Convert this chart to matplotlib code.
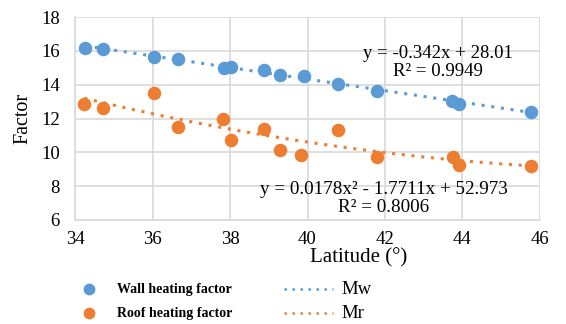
import numpy as np
import matplotlib
matplotlib.use("Agg")
import matplotlib.pyplot as plt
from matplotlib.lines import Line2D

lat_wall = [34.26, 34.73, 36.04, 36.67, 37.85, 38.03, 38.88, 39.28, 39.9, 40.8, 41.8, 43.73, 43.92, 45.76]
wall = [16.18, 16.09, 15.62, 15.50, 14.98, 15.02, 14.86, 14.59, 14.50, 14.04, 13.64, 13.03, 12.83, 12.36]
lat_roof = [34.24, 34.73, 36.04, 36.67, 37.83, 38.03, 38.88, 39.28, 39.84, 40.79, 41.8, 43.75, 43.92, 45.76]
roof = [12.85, 12.60, 13.52, 11.51, 11.95, 10.72, 11.36, 10.13, 9.85, 11.31, 9.70, 9.73, 9.28, 9.20]
mw_coef = [-0.342, 28.01]
mr_coef = [0.0178, -1.7711, 52.973]
xticks = [34, 36, 38, 40, 42, 44, 46]
yticks = [6, 8, 10, 12, 14, 16, 18]

BLUE = "#5B9BD5"
ORANGE = "#ED7D31"
W, H = 566, 324
plt.rcParams['font.family'] = ['Liberation Serif', 'DejaVu Serif']

fig = plt.figure(figsize=(W/100, H/100), dpi=100)
ax = fig.add_axes([75/W, 1-220/H, (540-75)/W, (220-17)/H])

xs = np.linspace(min(lat_wall), max(lat_wall), 100)
ax.plot(xs, np.polyval(mw_coef, xs), linestyle=(0, (1, 2.2)), color=BLUE, lw=2.2, zorder=2)
xs2 = np.linspace(min(lat_roof), max(lat_roof), 100)
ax.plot(xs2, np.polyval(mr_coef, xs2), linestyle=(0, (1, 2.2)), color=ORANGE, lw=2.2, zorder=2)
ax.scatter(lat_wall, wall, s=95, color=BLUE, zorder=3, linewidths=0)
ax.scatter(lat_roof, roof, s=95, color=ORANGE, zorder=3, linewidths=0)

ax.set_xlim(34, 46)
ax.set_ylim(6, 18)
ax.set_xticks(xticks)
ax.set_yticks(yticks)
ax.grid(True, color="#D9D9D9", lw=1.2)
ax.set_axisbelow(True)
for s in ["top", "right"]:
    ax.spines[s].set_visible(False)
for s in ["left", "bottom"]:
    ax.spines[s].set_color("#D9D9D9")
    ax.spines[s].set_linewidth(1.2)
ax.tick_params(axis="y", length=0, labelsize=13.5, pad=11)
ax.tick_params(axis="x", length=0, labelsize=13.5, pad=8)
ax.set_ylabel("Factor", fontsize=14.5, labelpad=6)

ax.text(438, 53, "y = -0.342x + 28.01", transform=None, ha="center", va="center", fontsize=13.5)
fig.text(438/W, 1-72/H, "R² = 0.9949", ha="center", va="center", fontsize=13.5)
fig.text(384/W, 1-189/H, "y = 0.0178x² - 1.7711x + 52.973", ha="center", va="center", fontsize=13.8)
fig.text(384/W, 1-207/H, "R² = 0.8006", ha="center", va="center", fontsize=13.8)
ax.texts[0].remove()
fig.text(438/W, 1-53/H, "y = -0.342x + 28.01", ha="center", va="center", fontsize=13.5)

fig.text(359/W, 1-258/H, "Latitude (°)", ha="center", va="center", fontsize=15)

# legend
for yy, c, lab, ml in [(289, BLUE, "Wall heating factor", "Mw"), (313, ORANGE, "Roof heating factor", "Mr")]:
    fig.add_artist(Line2D([89/W], [1-yy/H], marker="o", markersize=8.5, color=c, markeredgewidth=0))
    fig.text(117/W, 1-yy/H, lab, ha="left", va="center", fontsize=10, fontweight="bold")
    fig.add_artist(Line2D([284/W, 333/W], [1-yy/H, 1-yy/H], linestyle=(0, (1, 2.2)), color=c, lw=1.8))
    fig.text(341/W, 1-yy/H, ml, ha="left", va="center", fontsize=13.5)

fig.savefig("out.png", dpi=100)
